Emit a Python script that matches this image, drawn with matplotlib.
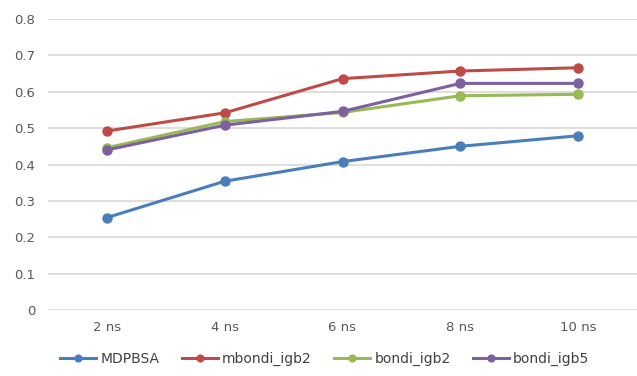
import matplotlib.pyplot as plt

categories = ["2 ns", "4 ns", "6 ns", "8 ns", "10 ns"]
mdpbsa = [0.254, 0.354, 0.408, 0.450, 0.479]
mbondi_igb2 = [0.492, 0.542, 0.636, 0.657, 0.666]
bondi_igb2 = [0.446, 0.518, 0.543, 0.589, 0.593]
bondi_igb5 = [0.440, 0.508, 0.546, 0.623, 0.623]

series = [
    ("MDPBSA", mdpbsa, "#4a7ebb"),
    ("mbondi_igb2", mbondi_igb2, "#be4b48"),
    ("bondi_igb2", bondi_igb2, "#98b954"),
    ("bondi_igb5", bondi_igb5, "#7d60a0"),
]

fig = plt.figure(figsize=(6.37, 3.76), dpi=100)
ax = fig.add_axes([48 / 637, 1 - 310 / 376, 589 / 637, 291 / 376])

x = range(len(categories))
for name, vals, col in series:
    ax.plot(x, vals, color=col, lw=2.2, marker="o", ms=6.5, label=name)

ax.set_xlim(-0.5, len(categories) - 0.5)
ax.set_ylim(0, 0.8)
ax.set_yticks([i / 10 for i in range(9)])
ax.set_yticklabels(["0"] + [f"{i / 10:.1f}" for i in range(1, 9)])
ax.set_xticks(list(x))
ax.set_xticklabels(categories)
ax.grid(axis="y", color="#d9d9d9", lw=1.2)
ax.set_axisbelow(True)
for s in ax.spines.values():
    s.set_visible(False)
ax.tick_params(length=0, labelsize=9.5, labelcolor="#595959", pad=8)
ax.tick_params(axis="y", pad=9)

ax.legend(loc="upper center", bbox_to_anchor=(0.47, -0.1), ncol=4, frameon=False,
          fontsize=10, labelcolor="#404040", handlelength=2.6, columnspacing=1.6,
          handletextpad=0.3, markerscale=0.75)

fig.savefig("out.png", dpi=100)
